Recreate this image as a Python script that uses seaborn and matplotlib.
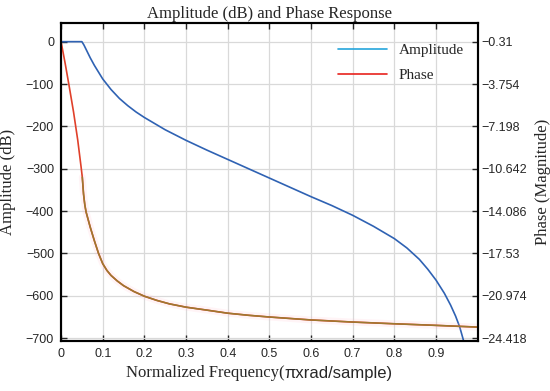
import numpy as np
import pandas as pd
import matplotlib
matplotlib.use('Agg')
import matplotlib.pyplot as plt
import seaborn as sns

# amplitude response (dB)
amp_freq = [0.0, 0.05, 0.055, 0.06, 0.07, 0.08, 0.09, 0.10, 0.12, 0.14, 0.16, 0.18,
            0.20, 0.25, 0.30, 0.35, 0.40, 0.45, 0.50, 0.55, 0.60, 0.65, 0.70, 0.75,
            0.80, 0.83, 0.86, 0.88, 0.90, 0.92, 0.935, 0.947, 0.957, 0.967, 0.975]
amp_db = [0, 0, -8, -18, -38, -56, -72, -88, -113, -134, -151, -166,
          -179, -208, -233, -256, -278, -300, -322, -344, -366, -387, -410, -436,
          -465, -487, -514, -537, -563, -594, -622, -648, -674, -709, -745]

# phase response (right axis units)
ph_freq = [0.0, 0.01, 0.02, 0.03, 0.04, 0.048, 0.051, 0.054, 0.057, 0.06, 0.065, 0.07, 0.08,
           0.09, 0.10, 0.11, 0.12, 0.135, 0.15, 0.175, 0.20, 0.23, 0.26, 0.30, 0.35,
           0.40, 0.45, 0.50, 0.60, 0.70, 0.80, 0.90, 1.00]
ph_val = [-0.31, -2.10, -4.03, -6.03, -8.30, -10.47, -11.33, -12.71, -13.57, -14.15, -14.77, -15.39, -16.50,
          -17.53, -18.36, -18.91, -19.32, -19.77, -20.15, -20.63, -21.01, -21.35, -21.63, -21.90, -22.14,
          -22.39, -22.56, -22.70, -22.94, -23.11, -23.25, -23.38, -23.52]

x_ticks = [0, 0.1, 0.2, 0.3, 0.4, 0.5, 0.6, 0.7, 0.8, 0.9]
x_labels = ['0', '0.1', '0.2', '0.3', '0.4', '0.5', '0.6', '0.7', '0.8', '0.9']
amp_ticks = [0, -100, -200, -300, -400, -500, -600, -700]
ph_ticks = [-0.31, -3.754, -7.198, -10.642, -14.086, -17.53, -20.974, -24.418]
ph_labels = ['\u22120.31', '\u22123.754', '\u22127.198', '\u221210.642',
             '\u221214.086', '\u221217.53', '\u221220.974', '\u221224.418']

sns.set_theme(style='ticks')
plt.rcParams['font.family'] = ['Liberation Sans', 'DejaVu Sans']
serif = ['Liberation Serif', 'DejaVu Serif']

fig = plt.figure(figsize=(5.5, 3.91), dpi=100)
ax = fig.add_axes([0.111, 0.1287, 0.7575, 0.8113])
ax2 = ax.twinx()

amp_df = pd.DataFrame({'freq': amp_freq, 'db': amp_db})
ph_df = pd.DataFrame({'freq': ph_freq, 'phase': ph_val})

sns.lineplot(data=amp_df, x='freq', y='db', ax=ax, color='#2f62b3', lw=1.2, label='Amplitude', legend=False)

# phase: red line, brownish where it flattens out
tail = ph_df[ph_df['freq'] >= 0.051]
sns.lineplot(data=tail, x='freq', y='phase', ax=ax2, color='#ffb6c8', lw=5, alpha=0.15, legend=False)
sns.lineplot(data=ph_df, x='freq', y='phase', ax=ax2, color='#e0402a', lw=1.2, label='Phase', legend=False)
sns.lineplot(data=tail, x='freq', y='phase', ax=ax2, color='#9c7a30', lw=1.1, legend=False)

ylo, yhi = -706, 43
ax.set_xlim(0, 1)
ax.set_ylim(ylo, yhi)
ax2.set_ylim(-0.31 + 0.03444 * ylo, -0.31 + 0.03444 * yhi)

ax.set_xticks(x_ticks)
ax.set_xticklabels(x_labels)
ax.set_yticks(amp_ticks)
ax.set_yticklabels(['0'] + ['\u2212%d' % -v for v in amp_ticks[1:]])
ax2.set_yticks(ph_ticks)
ax2.set_yticklabels(ph_labels)

ax.grid(True, color='#d9d9d9', lw=0.9)
ax.tick_params(direction='in', length=4, width=1, labelsize=9, top=True, pad=5)
ax2.tick_params(direction='in', length=4, width=1, labelsize=9, pad=3)
for a in (ax, ax2):
    for sp in a.spines.values():
        sp.set_linewidth(1.5)
        sp.set_color('black')

ax.set_xlabel('')
ax.set_ylabel('Amplitude (dB)', family=serif, fontsize=12)
ax.yaxis.set_label_coords(-0.108, 0.5)
ax2.set_ylabel('Phase (Magnitude)', family=serif, fontsize=12)
ax2.yaxis.set_label_coords(1.1375, 0.5)
ax.set_title('Amplitude (dB) and Phase Response', family=serif, fontsize=12, pad=4)

fig.text(0.518, 0.045, 'Normalized Frequency(', family=serif, fontsize=12, ha='right', va='center')
fig.text(0.518, 0.045, '\u03c0xrad/sample)', fontsize=12, ha='left', va='center')

h1, l1 = ax.get_legend_handles_labels()
h2, l2 = ax2.get_legend_handles_labels()
leg = ax2.legend(h1 + h2, l1 + l2, loc='upper right', bbox_to_anchor=(1.0, 0.98), frameon=False,
                 prop={'family': serif, 'size': 11}, handlelength=3.2,
                 borderaxespad=0.5, labelspacing=0.75)
leg.legend_handles[0].set_color('#25a5dc')
leg.legend_handles[1].set_color('#e8231e')

fig.savefig('out.png', dpi=100)
